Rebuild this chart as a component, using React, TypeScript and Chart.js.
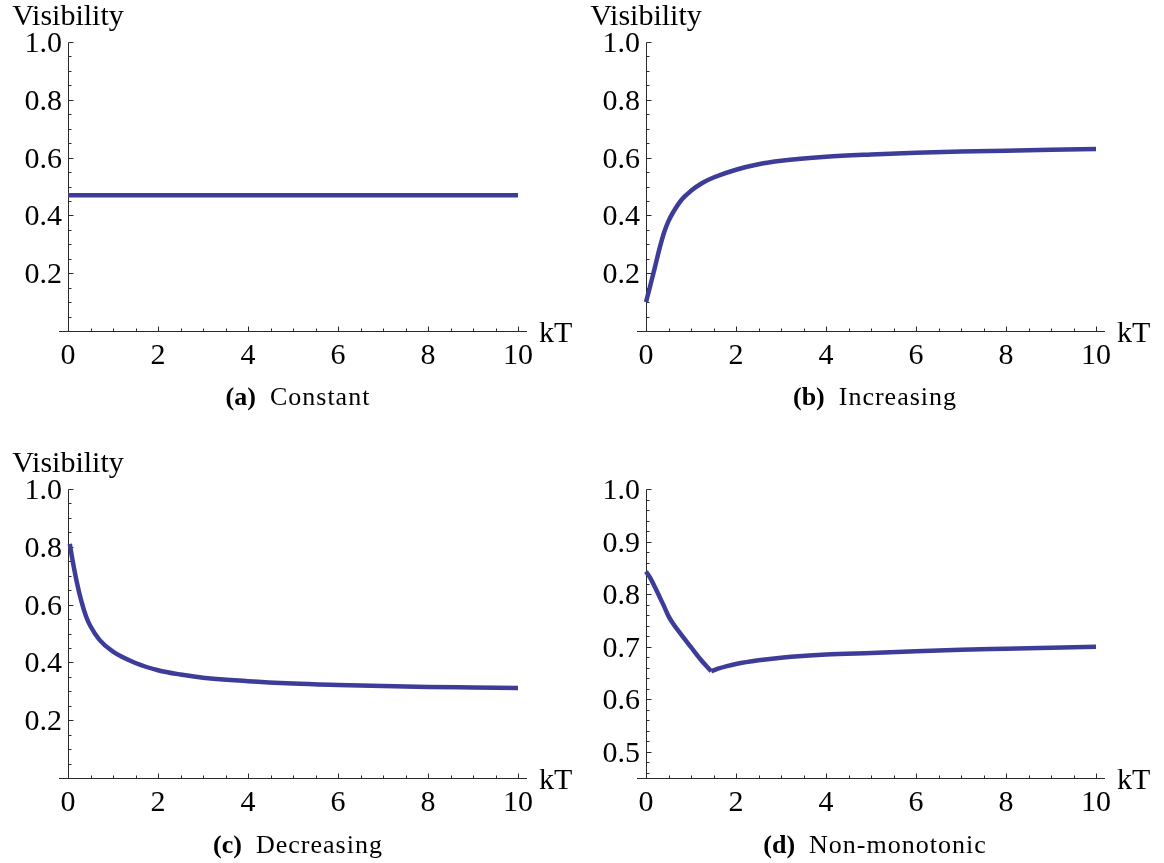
import React, { useEffect, useRef } from 'react';
import { Chart, registerables } from 'chart.js';

Chart.register(...registerables);

// ---- tick definitions ----
const xMajorTicks = [0, 2, 4, 6, 8, 10];
const xTickLabels = ['0', '2', '4', '6', '8', '10'];
const xMinorTicks = [0.5, 1, 1.5, 2.5, 3, 3.5, 4.5, 5, 5.5, 6.5, 7, 7.5, 8.5, 9, 9.5];

const yMajorTicksABC = [0.2, 0.4, 0.6, 0.8, 1.0];
const yTickLabelsABC = ['0.2', '0.4', '0.6', '0.8', '1.0'];
const yMinorTicksABC = [0.05, 0.1, 0.15, 0.25, 0.3, 0.35, 0.45, 0.5, 0.55, 0.65, 0.7, 0.75, 0.85, 0.9, 0.95];

const yMajorTicksD = [0.5, 0.6, 0.7, 0.8, 0.9, 1.0];
const yTickLabelsD = ['0.5', '0.6', '0.7', '0.8', '0.9', '1.0'];
const yMinorTicksD = [0.46, 0.48, 0.52, 0.54, 0.56, 0.58, 0.62, 0.64, 0.66, 0.68, 0.72, 0.74, 0.76, 0.78, 0.82, 0.84, 0.86, 0.88, 0.92, 0.94, 0.96, 0.98];

// ---- series ----
const constantX = [0, 10];
const constantY = [0.47, 0.47];

const increasingX = [0, 0.05, 0.1, 0.2, 0.3, 0.4, 0.5, 0.6, 0.8, 1.0, 1.25, 1.5, 2, 2.5, 3, 4, 5, 6, 7, 8, 9, 10];
const increasingY = [0.1, 0.13, 0.16, 0.222, 0.285, 0.34, 0.38, 0.41, 0.456, 0.485, 0.512, 0.531, 0.558, 0.577, 0.589, 0.603, 0.611, 0.617, 0.621, 0.624, 0.627, 0.63];

const decreasingX = [0.04, 0.1, 0.2, 0.3, 0.4, 0.5, 0.7, 1.0, 1.5, 2, 2.5, 3, 4, 5, 6, 7, 8, 9, 10];
const decreasingY = [0.81, 0.755, 0.675, 0.61, 0.56, 0.525, 0.478, 0.437, 0.398, 0.373, 0.358, 0.347, 0.335, 0.327, 0.322, 0.318, 0.315, 0.313, 0.311];

const nonMonoX = [0, 0.1, 0.2, 0.3, 0.4, 0.5, 0.6, 0.8, 1.0, 1.2, 1.45, 1.6, 1.8, 2, 2.5, 3, 4, 5, 6, 7, 8, 9, 10];
const nonMonoY = [0.843, 0.83, 0.813, 0.795, 0.777, 0.758, 0.744, 0.721, 0.699, 0.677, 0.653, 0.658, 0.663, 0.667, 0.674, 0.679, 0.685, 0.688, 0.691, 0.694, 0.696, 0.698, 0.7];

const LINE_COLOR = '#3d3d99';
const AXIS_COLOR = '#2a2a2a';
const TICK_FONT = '30px "Liberation Serif", "Times New Roman", serif';

type Pt = { x: number; y: number };
const toPts = (xs: number[], ys: number[]): Pt[] => xs.map((x, i) => ({ x, y: ys[i] }));

interface AxisCfg {
  yMajor: number[];
  yLabels: string[];
  yMinor: number[];
  showTitle: boolean;
}

function makeAxesPlugin(cfg: AxisCfg) {
  return {
    id: 'mathAxes',
    beforeDatasetsDraw(chart: any) {
      const { ctx, chartArea: a } = chart;
      const xs = chart.scales.x;
      const ys = chart.scales.y;
      const x0 = Math.round(xs.getPixelForValue(0)) + 0.5;
      const yb = Math.round(a.bottom) + 0.5;
      const yt = Math.round(ys.getPixelForValue(ys.max)) + 0.5;
      ctx.save();
      ctx.strokeStyle = AXIS_COLOR;
      ctx.lineWidth = 1;
      ctx.beginPath();
      ctx.moveTo(a.left, yb);
      ctx.lineTo(a.right, yb);
      ctx.moveTo(x0, yb);
      ctx.lineTo(x0, yt);
      for (const v of xMajorTicks) {
        const px = Math.round(xs.getPixelForValue(v)) + 0.5;
        ctx.moveTo(px, yb);
        ctx.lineTo(px, yb - 5);
      }
      for (const v of xMinorTicks) {
        const px = Math.round(xs.getPixelForValue(v)) + 0.5;
        ctx.moveTo(px, yb);
        ctx.lineTo(px, yb - 3);
      }
      for (const v of cfg.yMajor) {
        const py = Math.round(ys.getPixelForValue(v)) + 0.5;
        ctx.moveTo(x0, py);
        ctx.lineTo(x0 + 5, py);
      }
      for (const v of cfg.yMinor) {
        const py = Math.round(ys.getPixelForValue(v)) + 0.5;
        ctx.moveTo(x0, py);
        ctx.lineTo(x0 + 3, py);
      }
      ctx.stroke();
      ctx.restore();
    },
    afterDatasetsDraw(chart: any) {
      const { ctx, chartArea: a } = chart;
      const xs = chart.scales.x;
      const ys = chart.scales.y;
      const x0 = xs.getPixelForValue(0);
      ctx.save();
      ctx.fillStyle = '#000';
      ctx.font = TICK_FONT;
      ctx.textBaseline = 'alphabetic';
      ctx.textAlign = 'center';
      xMajorTicks.forEach((v, i) => {
        ctx.fillText(xTickLabels[i], xs.getPixelForValue(v), a.bottom + 33);
      });
      ctx.textAlign = 'right';
      cfg.yMajor.forEach((v, i) => {
        ctx.fillText(cfg.yLabels[i], x0 - 6, ys.getPixelForValue(v) + 10);
      });
      ctx.textAlign = 'left';
      ctx.fillText('kT', a.right + 12, a.bottom + 11);
      if (cfg.showTitle) {
        ctx.textAlign = 'center';
        ctx.fillText('Visibility', x0, a.top - 17);
      }
      ctx.restore();
    },
  };
}

interface PanelProps {
  left: number;
  top: number;
  width: number;
  height: number;
  padding: { left: number; right: number; top: number; bottom: number };
  segments: Pt[][];
  yMin: number;
  yMax: number;
  axis: AxisCfg;
}

function Panel(props: PanelProps) {
  const ref = useRef<HTMLCanvasElement | null>(null);
  useEffect(() => {
    if (!ref.current) return;
    const chart = new Chart(ref.current, {
      type: 'line',
      data: {
        datasets: props.segments.map((seg) => ({
          data: seg,
          borderColor: LINE_COLOR,
          borderWidth: 4.5,
          pointRadius: 0,
          fill: false,
          cubicInterpolationMode: 'monotone' as const,
          borderCapStyle: 'butt' as const,
          borderJoinStyle: 'round' as const,
        })),
      },
      options: {
        responsive: false,
        animation: false,
        layout: { padding: props.padding },
        scales: {
          x: { type: 'linear', min: -0.2, max: 10.2, display: false },
          y: { type: 'linear', min: props.yMin, max: props.yMax, display: false },
        },
        plugins: { legend: { display: false }, tooltip: { enabled: false } },
        events: [],
      },
      plugins: [makeAxesPlugin(props.axis)],
    } as any);
    return () => chart.destroy();
  }, []);
  return (
    <canvas
      ref={ref}
      width={props.width}
      height={props.height}
      style={{ position: 'absolute', left: props.left, top: props.top, width: props.width, height: props.height }}
    />
  );
}

function Caption({ cx, cy, tag, text }: { cx: number; cy: number; tag: string; text: string }) {
  return (
    <div
      style={{
        position: 'absolute',
        left: cx - 200,
        top: cy - 20,
        width: 400,
        height: 40,
        lineHeight: '40px',
        textAlign: 'center',
        fontFamily: '"Liberation Serif", "Times New Roman", serif',
        fontSize: 26,
        color: '#000',
        whiteSpace: 'nowrap',
      }}
    >
      <span style={{ fontWeight: 'bold' }}>{tag}</span>
      <span style={{ marginLeft: 14, letterSpacing: '1px' }}>{text}</span>
    </div>
  );
}

export default function App() {
  const splitIdx = nonMonoY.indexOf(Math.min(...nonMonoY));
  const nmPts = toPts(nonMonoX, nonMonoY);
  const nmSegments = [nmPts.slice(0, splitIdx + 1), nmPts.slice(splitIdx)];

  const axisABC: AxisCfg = { yMajor: yMajorTicksABC, yLabels: yTickLabelsABC, yMinor: yMinorTicksABC, showTitle: true };
  const axisD: AxisCfg = { yMajor: yMajorTicksD, yLabels: yTickLabelsD, yMinor: yMinorTicksD, showTitle: false };

  const padL = { left: 59, right: 55 };
  const padR = { left: 55, right: 59 };

  return (
    <div style={{ position: 'fixed', left: 0, top: 0, width: 1164, height: 863, background: '#fff', overflow: 'hidden' }}>
      <Panel left={0} top={0} width={582} height={420} padding={{ ...padL, top: 42, bottom: 89 }}
        segments={[toPts(constantX, constantY)]} yMin={0} yMax={1} axis={axisABC} />
      <Panel left={582} top={0} width={582} height={420} padding={{ ...padR, top: 42, bottom: 89 }}
        segments={[toPts(increasingX, increasingY)]} yMin={0} yMax={1} axis={axisABC} />
      <Panel left={0} top={430} width={582} height={433} padding={{ ...padL, top: 59, bottom: 85 }}
        segments={[toPts(decreasingX, decreasingY)]} yMin={0} yMax={1} axis={axisABC} />
      <Panel left={582} top={430} width={582} height={433} padding={{ ...padR, top: 59, bottom: 85 }}
        segments={nmSegments} yMin={0.45} yMax={1} axis={axisD} />
      <Caption cx={298} cy={397} tag="(a)" text="Constant" />
      <Caption cx={875} cy={397} tag="(b)" text="Increasing" />
      <Caption cx={298} cy={845} tag="(c)" text="Decreasing" />
      <Caption cx={875} cy={845} tag="(d)" text="Non-monotonic" />
    </div>
  );
}
